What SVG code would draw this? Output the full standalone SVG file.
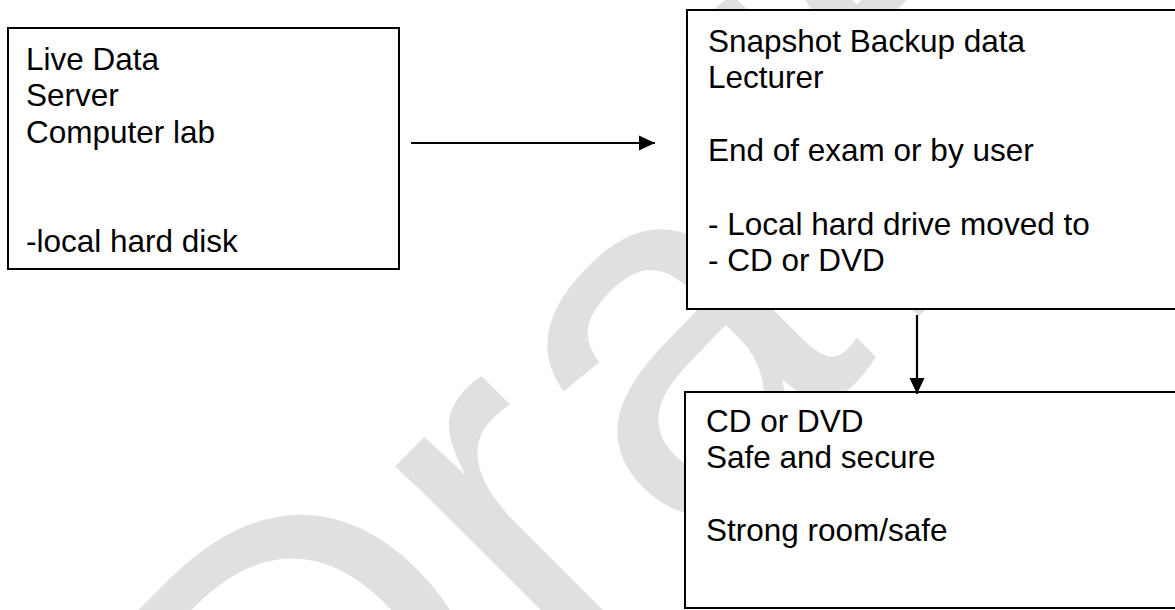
<svg xmlns="http://www.w3.org/2000/svg" width="1175" height="610" viewBox="0 0 1175 610">
  <style>
    .box { fill: #ffffff; stroke: #000000; stroke-width: 2; }
    .lbl { font-family: "Liberation Sans", Arial, sans-serif; font-size: 31.5px; fill: #000000; }
    .conn { stroke: #000000; stroke-width: 2.2; fill: none; }
    .wm { font-family: "Liberation Sans", Arial, sans-serif; font-size: 500px; fill: #e0e0e0; }
  </style>
  <defs>
    <marker id="arr" markerWidth="16" markerHeight="16" refX="16" refY="8" orient="auto" markerUnits="userSpaceOnUse">
      <path d="M0,0.5 L16,8 L0,15.5 z" fill="#000000"/>
    </marker>
  </defs>
  <rect width="1175" height="610" fill="#ffffff"/>
  <text class="wm" transform="translate(303,932) rotate(-45)">Dr<tspan dx="6">a</tspan><tspan dx="15">f</tspan>t</text>

  <g id="live-data">
    <rect class="box" x="8" y="28" width="391" height="241"/>
    <text class="lbl" x="26" y="69.5">Live Data</text>
    <text class="lbl" x="26" y="106">Server</text>
    <text class="lbl" x="26" y="142.5">Computer lab</text>
    <text class="lbl" x="26" y="252">-local hard disk</text>
  </g>

  <g id="snapshot-backup">
    <rect class="box" x="687" y="10" width="500" height="299"/>
    <text class="lbl" x="708" y="51.5">Snapshot Backup data</text>
    <text class="lbl" x="708" y="88">Lecturer</text>
    <text class="lbl" x="708" y="161.3">End of exam or by user</text>
    <text class="lbl" x="708" y="234.5">- Local hard drive moved to</text>
    <text class="lbl" x="708" y="271">- CD or DVD</text>
  </g>

  <g id="cd-dvd">
    <rect class="box" x="685" y="392" width="500" height="216"/>
    <text class="lbl" x="706" y="431.5">CD or DVD</text>
    <text class="lbl" x="706" y="468">Safe and secure</text>
    <text class="lbl" x="706" y="541">Strong room/safe</text>
  </g>

  <g id="connectors">
    <line class="conn" x1="411" y1="143" x2="655" y2="143" marker-end="url(#arr)"/>
    <line class="conn" x1="917" y1="315" x2="917" y2="394" marker-end="url(#arr)"/>
  </g>
</svg>
